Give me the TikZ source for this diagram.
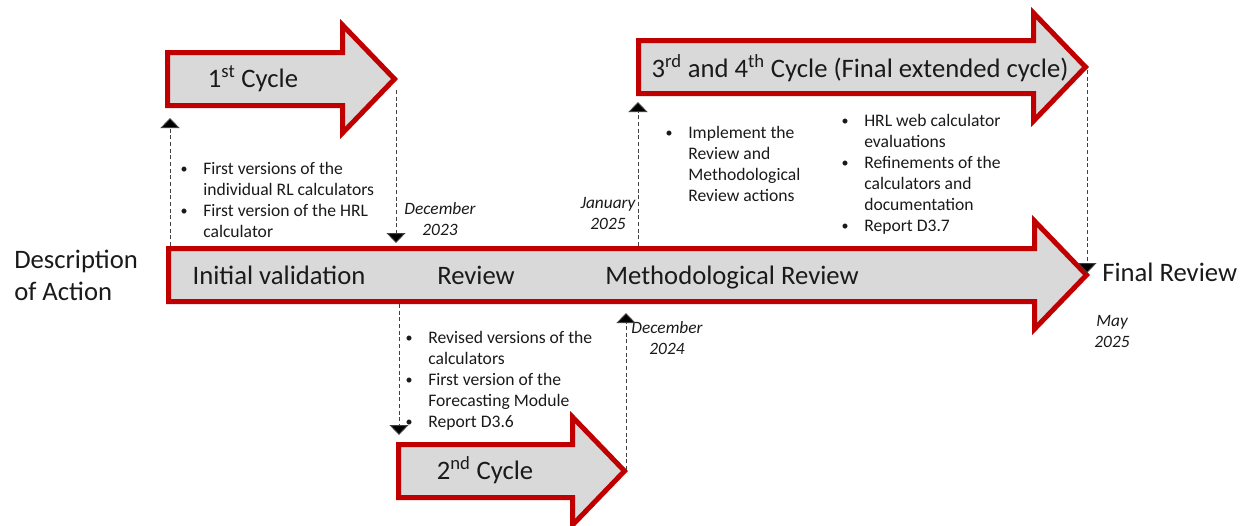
\documentclass[tikz,border=0pt]{standalone}
\usepackage{fontspec}
\setmainfont{Carlito}
\usetikzlibrary{arrows.meta}
\definecolor{arrred}{HTML}{C00000}
\definecolor{arrfill}{HTML}{D9D9D9}
\definecolor{txt}{HTML}{1A1A1A}
\newcommand\cyclearrow[4]{% #1 name, #2 left x, #3 centre y, #4 tip x
  \draw[bigarrow] ({#2},{#3-26.5}) -- ({#4-52},{#3-26.5}) -- ({#4-52},{#3-54})
    -- ({#4},{#3}) coordinate (#1tip) -- ({#4-52},{#3+54}) -- ({#4-52},{#3+26.5})
    -- ({#2},{#3+26.5}) -- cycle;
  \coordinate (#1top) at ({#2},{#3-26.5});
  \coordinate (#1bot) at ({#2},{#3+26.5});}
\newcommand\bul{\makebox[18pt][l]{\hspace*{1pt}\raisebox{0.5pt}{\scalebox{0.8}{\textbullet}}}}
\newcommand\ind{\hspace*{18pt}}
\begin{document}
\begin{tikzpicture}[x=0.75pt,y=-0.75pt,
  bigarrow/.style={draw=arrred,fill=arrfill,line width=3.75pt,line join=miter},
  biglabel/.style={font=\fontsize{20}{24}\selectfont,text=txt,inner sep=0pt},
  bullist/.style={font=\fontsize{13.2}{15.75}\selectfont,text=txt,align=left,anchor=north west,inner sep=0pt},
  datelabel/.style={font=\fontsize{13}{15.75}\selectfont\itshape,text=txt,align=center,inner sep=0pt},
  dashlink/.style={draw=black!75,line width=0.75pt,dash pattern=on 3pt off 2pt,
    -{Triangle[width=14.25pt,length=7.5pt,fill=black]}}]
\useasboundingbox (0,0) rectangle (1245,525);
% arrows
\cyclearrow{main}{168.5}{275}{1086.5}
\cyclearrow{one}{167.5}{79}{394.5}
\cyclearrow{two}{398.5}{471}{624.5}
\cyclearrow{three}{638.5}{67}{1085.5}
% arrow labels
\node[biglabel] (lone) at (253,79) {1\textsuperscript{st} Cycle};
\node[biglabel] (ltwo) at (485,470) {2\textsuperscript{nd} Cycle};
\node[biglabel] (lthree) at (860,68) {3\textsuperscript{rd} and 4\textsuperscript{th} Cycle (Final extended cycle)};
\node[biglabel,anchor=base] (linit) at (279,284) {Initial validation};
\node[biglabel,anchor=base] (lrev) at (476,284) {Review};
\node[biglabel,anchor=base] (lmeth) at (732,284) {Methodological Review};
\node[biglabel,align=left,anchor=west] (ldesc) at (14,275) {Description\\of Action};
\node[biglabel,anchor=west] (lfinal) at (1102,272) {Final Review};
% bullet lists
\node[bullist] (bl1) at (179,162) {\bul First versions of the\\\ind individual RL calculators\\\bul First version of the HRL\\\ind calculator};
\node[bullist] (bl2) at (404,331) {\bul Revised versions of the\\\ind calculators\\\bul First version of the\\\ind Forecasting Module\\\bul Report D3.6};
\node[bullist] (bl3) at (664,126) {\bul Implement the\\\ind Review and\\\ind Methodological\\\ind Review actions};
\node[bullist] (bl4) at (840,114) {\bul HRL web calculator\\\ind evaluations\\\bul Refinements of the\\\ind calculators and\\\ind documentation\\\bul Report D3.7};
% dates
\node[datelabel] (d1) at (440,219) {December\\2023};
\node[datelabel] (d2) at (608,213) {January\\2025};
\node[datelabel] (d3) at (667,338) {December\\2024};
\node[datelabel] (d4) at (1112,331) {May\\2025};
% connectors
\coordinate (a1s) at (170,246); \coordinate (a1e) at (170,118);
\coordinate (a2s) at (396,90);  \coordinate (a2e) at (396,243);
\coordinate (a3s) at (399,304); \coordinate (a3e) at (399,435);
\coordinate (a4s) at (626,470); \coordinate (a4e) at (626,313);
\coordinate (a5s) at (638,246); \coordinate (a5e) at (638,102);
\coordinate (a6s) at (1087,70); \coordinate (a6e) at (1087,273);
\draw[dashlink] (a1s) -- (a1e);
\draw[dashlink] (a2s) -- (a2e);
\draw[dashlink] (a3s) -- (a3e);
\draw[dashlink] (a4s) -- (a4e);
\draw[dashlink] (a5s) -- (a5e);
\draw[dashlink] (a6s) -- (a6e);
\end{tikzpicture}
\end{document}
